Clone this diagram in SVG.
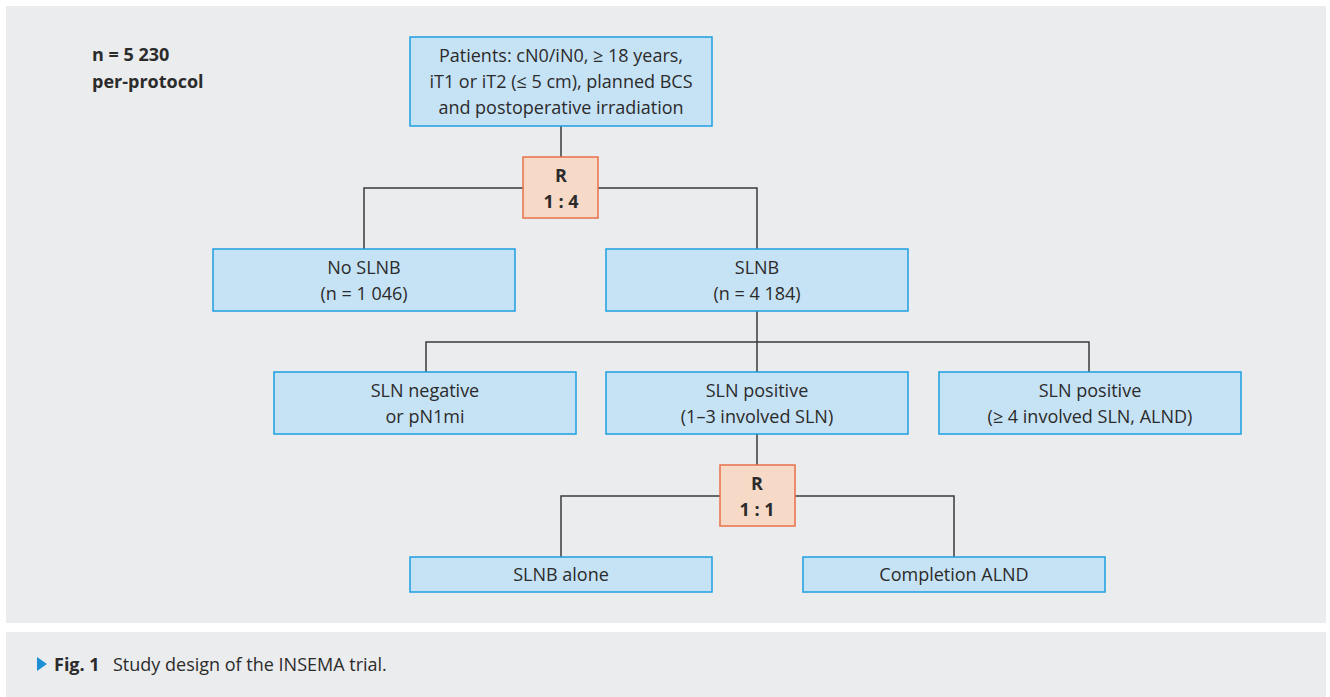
<svg xmlns="http://www.w3.org/2000/svg" width="1330" height="697" viewBox="0 0 1330 697">
<style>
.bg{fill:#ebeced}
.box{fill:#c6e2f5;stroke:#1c9fe0;stroke-width:1.5}
.rbox{fill:#f7d9c8;stroke:#e8704a;stroke-width:1.5}
.t{font-family:"Open Sans","Noto Sans",sans-serif;font-size:18px;fill:#2b2b2b;text-anchor:middle}
.b{font-weight:bold}
.l{text-anchor:start}
.c{fill:none;stroke:#3a3a3a;stroke-width:1.5}
</style>
<rect width="1330" height="697" fill="#ffffff"/>
<rect class="bg" x="6" y="6" width="1320" height="617"/>
<rect class="bg" x="6" y="632" width="1320" height="65"/>
<g id="label-n">
<text class="t b l" x="92" y="61">n = 5 230</text>
<text class="t b l" x="92" y="88">per-protocol</text>
</g>
<g id="connectors">
<path class="c" d="M561 126V157M364 249V188H757V249M757 311V342M426 372V342H1089V372M757 342V372M757 434V465M561 557V496H954V557"/>
</g>
<g id="patients">
<rect class="box" x="410" y="37" width="302" height="89"/>
<text class="t" x="561" y="62">Patients: cN0/iN0, ≥ 18 years,</text>
<text class="t" x="561" y="88">iT1 or iT2 (≤ 5 cm), planned BCS</text>
<text class="t" x="561" y="114">and postoperative irradiation</text>
</g>
<g id="r1">
<rect class="rbox" x="523" y="157" width="75" height="61"/>
<text class="t b" x="561" y="182">R</text>
<text class="t b" x="561" y="208">1 : 4</text>
</g>
<g id="noslnb">
<rect class="box" x="213" y="249" width="302" height="62"/>
<text class="t" x="364" y="274">No SLNB</text>
<text class="t" x="364" y="300">(n = 1 046)</text>
</g>
<g id="slnb">
<rect class="box" x="606" y="249" width="302" height="62"/>
<text class="t" x="757" y="274">SLNB</text>
<text class="t" x="757" y="300">(n = 4 184)</text>
</g>
<g id="slnneg">
<rect class="box" x="274" y="372" width="302" height="62"/>
<text class="t" x="425" y="397">SLN negative</text>
<text class="t" x="425" y="423">or pN1mi</text>
</g>
<g id="slnpos13">
<rect class="box" x="606" y="372" width="302" height="62"/>
<text class="t" x="757" y="397">SLN positive</text>
<text class="t" x="757" y="423">(1–3 involved SLN)</text>
</g>
<g id="slnpos4">
<rect class="box" x="939" y="372" width="302" height="62"/>
<text class="t" x="1090" y="397">SLN positive</text>
<text class="t" x="1090" y="423">(≥ 4 involved SLN, ALND)</text>
</g>
<g id="r2">
<rect class="rbox" x="720" y="465" width="75" height="61"/>
<text class="t b" x="757" y="490">R</text>
<text class="t b" x="757" y="516">1 : 1</text>
</g>
<g id="alone">
<rect class="box" x="410" y="557" width="302" height="35"/>
<text class="t" x="561" y="581">SLNB alone</text>
</g>
<g id="compl">
<rect class="box" x="803" y="557" width="302" height="35"/>
<text class="t" x="954" y="581">Completion ALND</text>
</g>
<g id="caption">
<path d="M37 657L47 664L37 671Z" fill="#1c8fd6"/>
<text class="t b l" x="54" y="671">Fig. 1</text>
<text class="t l" x="113" y="671">Study design of the INSEMA trial.</text>
</g>
</svg>
